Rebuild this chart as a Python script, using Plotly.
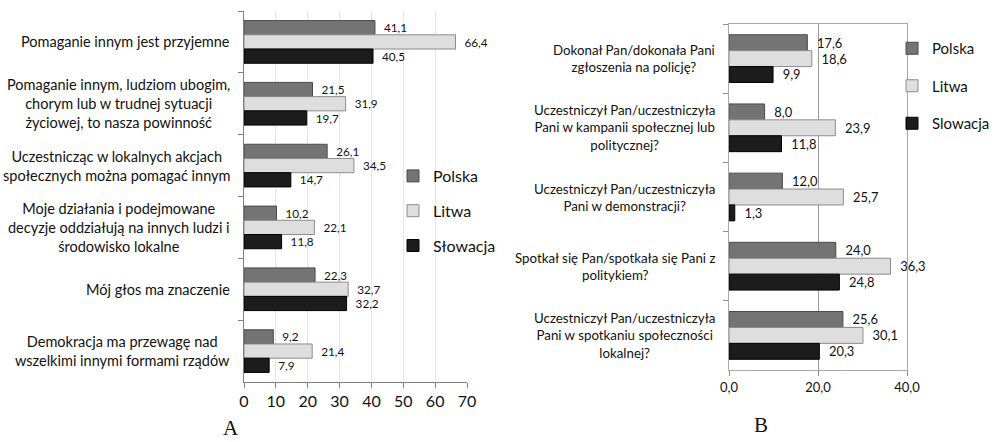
import plotly.graph_objects as go

# ---------- data ----------
series = ["Polska", "Litwa", "Słowacja"]
series_b = ["Polska", "Litwa", "Slowacja"]

cats_a = [
    "Pomaganie innym jest przyjemne",
    "Pomaganie innym, ludziom ubogim,<br>chorym lub w trudnej sytuacji<br>życiowej, to nasza powinność",
    "Uczestnicząc w lokalnych akcjach<br>społecznych można pomagać innym",
    "Moje działania i podejmowane<br>decyzje oddziałują na innych ludzi i<br>środowisko lokalne",
    "Mój głos ma znaczenie",
    "Demokracja ma przewagę nad<br>wszelkimi innymi formami rządów",
]
polska_a = [41.1, 21.5, 26.1, 10.2, 22.3, 9.2]
litwa_a = [66.4, 31.9, 34.5, 22.1, 32.7, 21.4]
slowacja_a = [40.5, 19.7, 14.7, 11.8, 32.2, 7.9]

cats_b = [
    "Dokonał Pan/dokonała Pani<br>zgłoszenia na policję?",
    "Uczestniczył Pan/uczestniczyła<br>Pani w kampanii społecznej lub<br>politycznej?",
    "Uczestniczył Pan/uczestniczyła<br>Pani w demonstracji?",
    "Spotkał się Pan/spotkała się Pani z<br>politykiem?",
    "Uczestniczył Pan/uczestniczyła<br>Pani w spotkaniu społeczności<br>lokalnej?",
]
polska_b = [17.6, 8.0, 12.0, 24.0, 25.6]
litwa_b = [18.6, 23.9, 25.7, 36.3, 30.1]
slowacja_b = [9.9, 11.8, 1.3, 24.8, 20.3]

ticks_a = [0, 10, 20, 30, 40, 50, 60, 70]
ticks_b = [0, 20, 40]

# ---------- styles ----------
fills = ["#747474", "#dedede", "#1c1c1c"]
lines = ["#4a4a4a", "#8c8c8c", "#000000"]
FONT = "Lato"


def fmt(v):
    return "  " + f"{v:.1f}".replace(".", ",")


fig = go.Figure()

for i, (name, vals) in enumerate(zip(series, [polska_a, litwa_a, slowacja_a])):
    fig.add_trace(go.Bar(
        y=cats_a, x=vals, orientation="h", name=name,
        marker=dict(color=fills[i], line=dict(color=lines[i], width=1)),
        text=[fmt(v) for v in vals], textposition="outside", cliponaxis=False,
        textfont=dict(family=FONT, size=14, color="#111"),
        xaxis="x", yaxis="y", legend="legend", legendgroup="a" + str(i),
    ))

for i, (name, vals) in enumerate(zip(series_b, [polska_b, litwa_b, slowacja_b])):
    fig.add_trace(go.Bar(
        y=cats_b, x=vals, orientation="h", name=name,
        marker=dict(color=fills[i], line=dict(color=lines[i], width=1)),
        text=[fmt(v) for v in vals], textposition="outside", cliponaxis=False,
        textfont=dict(family=FONT, size=13, color="#111"),
        xaxis="x2", yaxis="y2", legend="legend2", legendgroup="b" + str(i),
    ))

W, H = 995, 442

annotations = []
for c in cats_a:
    annotations.append(dict(
        x=232 / W, xref="paper", y=c, yref="y", xanchor="right", yanchor="middle",
        text=c, showarrow=False, align="center",
        font=dict(family=FONT, size=14.5, color="#111"),
    ))
for c in cats_b:
    annotations.append(dict(
        x=717 / W, xref="paper", y=c, yref="y2", xanchor="right", yanchor="middle",
        text=c, showarrow=False, align="center",
        font=dict(family=FONT, size=13.3, color="#111"),
    ))
annotations.append(dict(x=231 / W, y=0, xref="paper", yref="paper", text="A",
                        showarrow=False, font=dict(family="Liberation Serif", size=21, color="#111"),
                        xanchor="center", yanchor="bottom"))
annotations.append(dict(x=761 / W, y=3 / H, xref="paper", yref="paper", text="B",
                        showarrow=False, font=dict(family="Liberation Serif", size=21, color="#111"),
                        xanchor="center", yanchor="bottom"))

fig.update_layout(
    width=W, height=H,
    margin=dict(l=0, r=0, t=0, b=0, pad=0, autoexpand=False),
    paper_bgcolor="white", plot_bgcolor="white",
    barmode="group", bargap=0.31, bargroupgap=0.0,
    separators=", ",
    font=dict(family=FONT, color="#111"),
    xaxis=dict(domain=[244 / W, 467 / W], range=[0, 70], tickvals=ticks_a,
               showgrid=True, gridcolor="#e6e6e6", gridwidth=1,
               showline=True, linecolor="#808080", linewidth=1,
               ticks="outside", ticklen=5, tickcolor="#808080",
               tickfont=dict(family=FONT, size=16, color="#111"),
               zeroline=False, anchor="y", automargin=False),
    yaxis=dict(domain=[1 - 382 / H, 1 - 11 / H], autorange="reversed",
               showticklabels=False, showline=True, linecolor="#808080", linewidth=1,
               ticks="outside", ticklen=5, tickcolor="#808080", tickson="boundaries",
               showgrid=False, anchor="x", automargin=False),
    xaxis2=dict(domain=[729 / W, 907 / W], range=[0, 40], tickvals=ticks_b, tickformat=".1f",
                showgrid=True, gridcolor="#9a9a9a", gridwidth=1,
                showline=True, linecolor="#a8a8a8", linewidth=1, mirror=True,
                ticks="outside", ticklen=5, tickcolor="#8c8c8c",
                tickfont=dict(family=FONT, size=13, color="#111"),
                zeroline=False, anchor="y2", automargin=False),
    yaxis2=dict(domain=[1 - 370 / H, 1 - 24 / H], autorange="reversed",
                showticklabels=False, showline=True, linecolor="#a8a8a8", linewidth=1, mirror=True,
                ticks="outside", ticklen=5, tickcolor="#8c8c8c", tickson="boundaries",
                showgrid=False, anchor="x2", automargin=False),
    legend=dict(x=393 / W, y=1 - 159 / H, xanchor="left", yanchor="top",
                traceorder="grouped", tracegroupgap=11, bgcolor="rgba(0,0,0,0)",
                font=dict(family=FONT, size=16, color="#111"), itemwidth=30),
    legend2=dict(x=1.0, y=1 - 32 / H, xanchor="right", yanchor="top",
                 traceorder="grouped", tracegroupgap=15, bgcolor="rgba(0,0,0,0)",
                 font=dict(family=FONT, size=15, color="#111"), itemwidth=30),
    annotations=annotations,
    showlegend=True,
)

fig.write_html("out.html", post_script="document.body.style.margin='0';",
               config={"displayModeBar": False})
